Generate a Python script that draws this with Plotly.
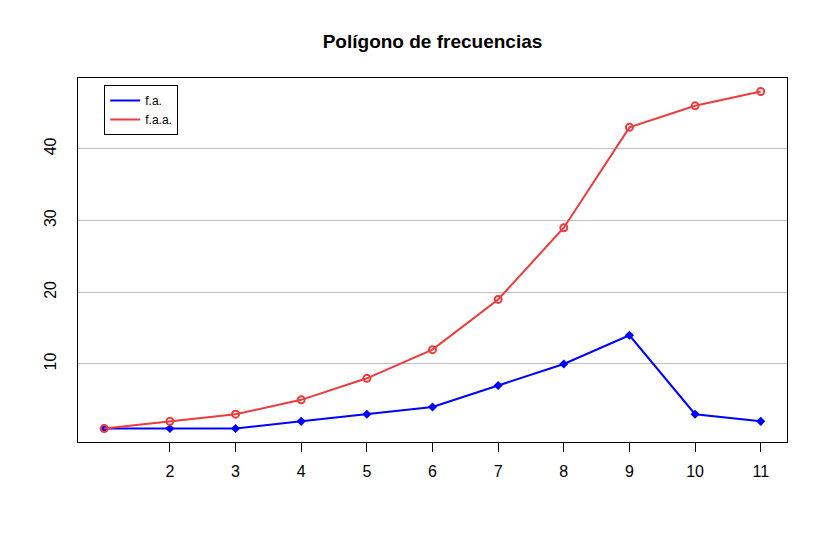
import plotly.graph_objects as go

x_vals = [1, 2, 3, 4, 5, 6, 7, 8, 9, 10, 11]
fa = [1, 1, 1, 2, 3, 4, 7, 10, 14, 3, 2]
faa = [1, 2, 3, 5, 8, 12, 19, 29, 43, 46, 48]
x_ticks = [2, 3, 4, 5, 6, 7, 8, 9, 10, 11]
y_ticks = [10, 20, 30, 40]
names = ["f.a.", "f.a.a."]
colors = ["#0000FF", "#EE3B3B"]

fig = go.Figure()
fig.add_trace(go.Scatter(x=x_vals, y=fa, mode="lines+markers", name=names[0], showlegend=False,
                         line=dict(color=colors[0], width=2),
                         marker=dict(symbol="diamond", size=7, color=colors[0])))
fig.add_trace(go.Scatter(x=x_vals, y=faa, mode="lines+markers", name=names[1], showlegend=False,
                         line=dict(color=colors[1], width=2),
                         marker=dict(symbol="circle-open", size=7, color=colors[1],
                                     line=dict(width=2, color=colors[1]))))
# legend-only entries (lines without markers, as in the reference legend)
for nm, c in zip(names, colors):
    fig.add_trace(go.Scatter(x=[None], y=[None], mode="lines", name=nm,
                             line=dict(color=c, width=2)))

fig.update_layout(
    width=828, height=541,
    margin=dict(l=78, r=41, t=78, b=99),
    paper_bgcolor="white", plot_bgcolor="white",
    font=dict(family="Liberation Sans, Arial, sans-serif", color="black"),
    title=dict(text="<b>Polígono de frecuencias</b>", x=(78 + 354.5) / 828, xanchor="center",
               y=1 - 41 / 541, yanchor="middle", font=dict(size=19)),
    showlegend=True,
    legend=dict(x=0.037, y=0.981, xanchor="left", yanchor="top",
                bordercolor="black", borderwidth=1, bgcolor="white",
                font=dict(size=12), tracegroupgap=0, itemwidth=30),
    xaxis=dict(range=[0.6, 11.4], tickvals=x_ticks, ticktext=[str(v) for v in x_ticks],
               showgrid=False, zeroline=False, showline=True, linecolor="black",
               linewidth=1, mirror=True, ticks="outside", ticklen=9, tickcolor="black",
               tickfont=dict(size=16), ticklabelstandoff=6),
    yaxis=dict(range=[-0.88, 49.88], tickvals=y_ticks, ticktext=[str(v) for v in y_ticks],
               showgrid=True, gridcolor="#BEBEBE", gridwidth=1, zeroline=False,
               showline=True, linecolor="black", linewidth=1, mirror=True,
               ticks="", tickangle=-90, tickfont=dict(size=16), ticklabelstandoff=15),
)

fig.write_html("out.html")
